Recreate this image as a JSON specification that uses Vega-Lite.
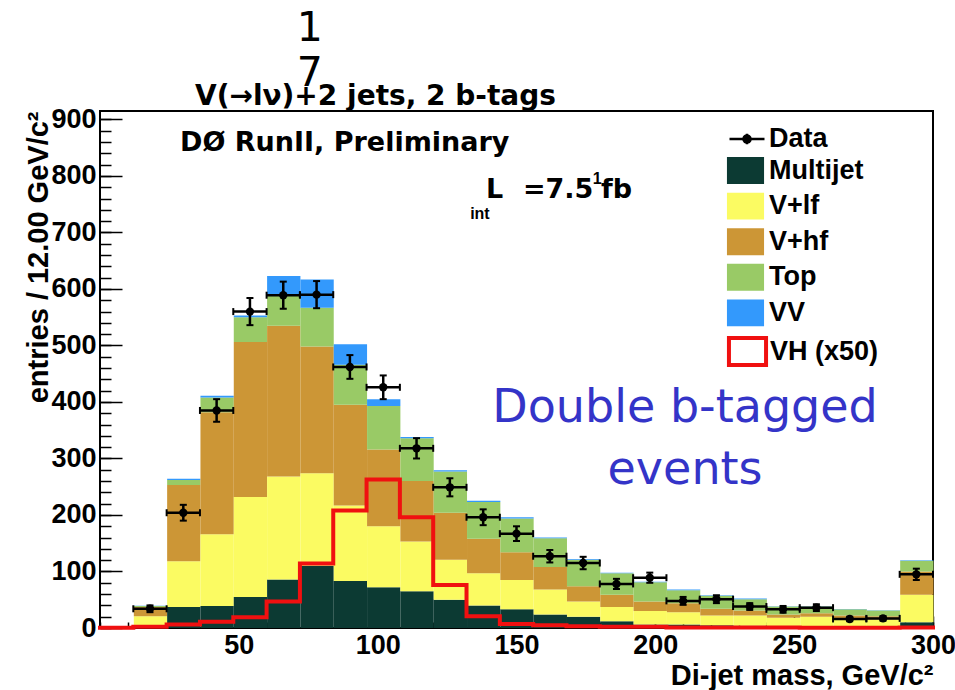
{
  "$schema": "https://vega.github.io/schema/vega-lite/v6.json",
  "width": 833,
  "height": 517,
  "autosize": {"type": "none"},
  "padding": {"left": 100, "top": 111, "right": 22, "bottom": 62},
  "background": "white",
  "config": {
    "view": {"stroke": "black", "strokeWidth": 2},
    "font": "Liberation Sans"
  },
  "resolve": {"axis": {"x": "independent", "y": "independent"}},
  "datasets": {
    "bkg": [
      {"lo":12,"hi":24,"p":"Multijet","k":1,"n":1},{"lo":12,"hi":24,"p":"V+lf","k":2,"n":20},{"lo":12,"hi":24,"p":"V+hf","k":3,"n":16},{"lo":12,"hi":24,"p":"Top","k":4,"n":2},{"lo":12,"hi":24,"p":"VV","k":5,"n":0.5},
      {"lo":24,"hi":36,"p":"Multijet","k":1,"n":37},{"lo":24,"hi":36,"p":"V+lf","k":2,"n":81},{"lo":24,"hi":36,"p":"V+hf","k":3,"n":135},{"lo":24,"hi":36,"p":"Top","k":4,"n":9},{"lo":24,"hi":36,"p":"VV","k":5,"n":2},
      {"lo":36,"hi":48,"p":"Multijet","k":1,"n":39},{"lo":36,"hi":48,"p":"V+lf","k":2,"n":127},{"lo":36,"hi":48,"p":"V+hf","k":3,"n":216},{"lo":36,"hi":48,"p":"Top","k":4,"n":26},{"lo":36,"hi":48,"p":"VV","k":5,"n":3},
      {"lo":48,"hi":60,"p":"Multijet","k":1,"n":55},{"lo":48,"hi":60,"p":"V+lf","k":2,"n":177},{"lo":48,"hi":60,"p":"V+hf","k":3,"n":274},{"lo":48,"hi":60,"p":"Top","k":4,"n":44},{"lo":48,"hi":60,"p":"VV","k":5,"n":3},
      {"lo":60,"hi":72,"p":"Multijet","k":1,"n":86},{"lo":60,"hi":72,"p":"V+lf","k":2,"n":182},{"lo":60,"hi":72,"p":"V+hf","k":3,"n":267},{"lo":60,"hi":72,"p":"Top","k":4,"n":55},{"lo":60,"hi":72,"p":"VV","k":5,"n":33},
      {"lo":72,"hi":84,"p":"Multijet","k":1,"n":110},{"lo":72,"hi":84,"p":"V+lf","k":2,"n":164},{"lo":72,"hi":84,"p":"V+hf","k":3,"n":224},{"lo":72,"hi":84,"p":"Top","k":4,"n":69},{"lo":72,"hi":84,"p":"VV","k":5,"n":50},
      {"lo":84,"hi":96,"p":"Multijet","k":1,"n":83},{"lo":84,"hi":96,"p":"V+lf","k":2,"n":134},{"lo":84,"hi":96,"p":"V+hf","k":3,"n":178},{"lo":84,"hi":96,"p":"Top","k":4,"n":71},{"lo":84,"hi":96,"p":"VV","k":5,"n":36},
      {"lo":96,"hi":108,"p":"Multijet","k":1,"n":72},{"lo":96,"hi":108,"p":"V+lf","k":2,"n":108},{"lo":96,"hi":108,"p":"V+hf","k":3,"n":136},{"lo":96,"hi":108,"p":"Top","k":4,"n":77},{"lo":96,"hi":108,"p":"VV","k":5,"n":12},
      {"lo":108,"hi":120,"p":"Multijet","k":1,"n":65},{"lo":108,"hi":120,"p":"V+lf","k":2,"n":88},{"lo":108,"hi":120,"p":"V+hf","k":3,"n":107},{"lo":108,"hi":120,"p":"Top","k":4,"n":76},{"lo":108,"hi":120,"p":"VV","k":5,"n":2},
      {"lo":120,"hi":132,"p":"Multijet","k":1,"n":50},{"lo":120,"hi":132,"p":"V+lf","k":2,"n":71},{"lo":120,"hi":132,"p":"V+hf","k":3,"n":83},{"lo":120,"hi":132,"p":"Top","k":4,"n":73},{"lo":120,"hi":132,"p":"VV","k":5,"n":2},
      {"lo":132,"hi":144,"p":"Multijet","k":1,"n":40},{"lo":132,"hi":144,"p":"V+lf","k":2,"n":57},{"lo":132,"hi":144,"p":"V+hf","k":3,"n":61},{"lo":132,"hi":144,"p":"Top","k":4,"n":65},{"lo":132,"hi":144,"p":"VV","k":5,"n":2},
      {"lo":144,"hi":156,"p":"Multijet","k":1,"n":33},{"lo":144,"hi":156,"p":"V+lf","k":2,"n":52},{"lo":144,"hi":156,"p":"V+hf","k":3,"n":49},{"lo":144,"hi":156,"p":"Top","k":4,"n":60},{"lo":144,"hi":156,"p":"VV","k":5,"n":2},
      {"lo":156,"hi":168,"p":"Multijet","k":1,"n":24},{"lo":156,"hi":168,"p":"V+lf","k":2,"n":44},{"lo":156,"hi":168,"p":"V+hf","k":3,"n":40},{"lo":156,"hi":168,"p":"Top","k":4,"n":51},{"lo":156,"hi":168,"p":"VV","k":5,"n":1},
      {"lo":168,"hi":180,"p":"Multijet","k":1,"n":20},{"lo":168,"hi":180,"p":"V+lf","k":2,"n":27},{"lo":168,"hi":180,"p":"V+hf","k":3,"n":27},{"lo":168,"hi":180,"p":"Top","k":4,"n":47},{"lo":168,"hi":180,"p":"VV","k":5,"n":1},
      {"lo":180,"hi":192,"p":"Multijet","k":1,"n":12},{"lo":180,"hi":192,"p":"V+lf","k":2,"n":25},{"lo":180,"hi":192,"p":"V+hf","k":3,"n":22},{"lo":180,"hi":192,"p":"Top","k":4,"n":38},{"lo":180,"hi":192,"p":"VV","k":5,"n":1},
      {"lo":192,"hi":204,"p":"Multijet","k":1,"n":6},{"lo":192,"hi":204,"p":"V+lf","k":2,"n":24},{"lo":192,"hi":204,"p":"V+hf","k":3,"n":17},{"lo":192,"hi":204,"p":"Top","k":4,"n":34},{"lo":192,"hi":204,"p":"VV","k":5,"n":1},
      {"lo":204,"hi":216,"p":"Multijet","k":1,"n":6},{"lo":204,"hi":216,"p":"V+lf","k":2,"n":22},{"lo":204,"hi":216,"p":"V+hf","k":3,"n":16},{"lo":204,"hi":216,"p":"Top","k":4,"n":23},{"lo":204,"hi":216,"p":"VV","k":5,"n":1},
      {"lo":216,"hi":228,"p":"Multijet","k":1,"n":5},{"lo":216,"hi":228,"p":"V+lf","k":2,"n":17},{"lo":216,"hi":228,"p":"V+hf","k":3,"n":12},{"lo":216,"hi":228,"p":"Top","k":4,"n":23},{"lo":216,"hi":228,"p":"VV","k":5,"n":1},
      {"lo":228,"hi":240,"p":"Multijet","k":1,"n":4},{"lo":228,"hi":240,"p":"V+lf","k":2,"n":18},{"lo":228,"hi":240,"p":"V+hf","k":3,"n":9},{"lo":228,"hi":240,"p":"Top","k":4,"n":20},{"lo":228,"hi":240,"p":"VV","k":5,"n":1},
      {"lo":240,"hi":252,"p":"Multijet","k":1,"n":3},{"lo":240,"hi":252,"p":"V+lf","k":2,"n":15},{"lo":240,"hi":252,"p":"V+hf","k":3,"n":6},{"lo":240,"hi":252,"p":"Top","k":4,"n":14},{"lo":240,"hi":252,"p":"VV","k":5,"n":0.5},
      {"lo":252,"hi":264,"p":"Multijet","k":1,"n":3},{"lo":252,"hi":264,"p":"V+lf","k":2,"n":17},{"lo":252,"hi":264,"p":"V+hf","k":3,"n":6},{"lo":252,"hi":264,"p":"Top","k":4,"n":12},{"lo":252,"hi":264,"p":"VV","k":5,"n":0.5},
      {"lo":264,"hi":276,"p":"Multijet","k":1,"n":2},{"lo":264,"hi":276,"p":"V+lf","k":2,"n":14},{"lo":264,"hi":276,"p":"V+hf","k":3,"n":6},{"lo":264,"hi":276,"p":"Top","k":4,"n":11},{"lo":264,"hi":276,"p":"VV","k":5,"n":0.5},
      {"lo":276,"hi":288,"p":"Multijet","k":1,"n":2},{"lo":276,"hi":288,"p":"V+lf","k":2,"n":13},{"lo":276,"hi":288,"p":"V+hf","k":3,"n":6},{"lo":276,"hi":288,"p":"Top","k":4,"n":10},{"lo":276,"hi":288,"p":"VV","k":5,"n":0.5},
      {"lo":288,"hi":300,"p":"Multijet","k":1,"n":10},{"lo":288,"hi":300,"p":"V+lf","k":2,"n":49},{"lo":288,"hi":300,"p":"V+hf","k":3,"n":41},{"lo":288,"hi":300,"p":"Top","k":4,"n":19},{"lo":288,"hi":300,"p":"VV","k":5,"n":1}
    ],
    "vh": [
      {"x":0,"n":0.5},{"x":12,"n":2},{"x":24,"n":6},{"x":36,"n":11},{"x":48,"n":19},{"x":60,"n":47},{"x":72,"n":114},{"x":84,"n":208},{"x":96,"n":263},{"x":108,"n":196},{"x":120,"n":76},{"x":132,"n":21},{"x":144,"n":7},{"x":156,"n":5},{"x":168,"n":3},{"x":180,"n":2},{"x":192,"n":2},{"x":204,"n":1},{"x":216,"n":1},{"x":228,"n":1},{"x":240,"n":1},{"x":252,"n":0.5},{"x":264,"n":0.5},{"x":276,"n":0.5},{"x":288,"n":1},{"x":300,"n":1}
    ],
    "obs": [
      {"lo":12,"hi":24,"c":18,"n":34,"elo":28,"ehi":40},
      {"lo":24,"hi":36,"c":30,"n":204,"elo":190,"ehi":218},
      {"lo":36,"hi":48,"c":42,"n":385,"elo":365,"ehi":405},
      {"lo":48,"hi":60,"c":54,"n":560,"elo":536,"ehi":584},
      {"lo":60,"hi":72,"c":66,"n":589,"elo":565,"ehi":613},
      {"lo":72,"hi":84,"c":78,"n":590,"elo":566,"ehi":614},
      {"lo":84,"hi":96,"c":90,"n":462,"elo":441,"ehi":483},
      {"lo":96,"hi":108,"c":102,"n":426,"elo":405,"ehi":447},
      {"lo":108,"hi":120,"c":114,"n":318,"elo":300,"ehi":336},
      {"lo":120,"hi":132,"c":126,"n":249,"elo":233,"ehi":265},
      {"lo":132,"hi":144,"c":138,"n":196,"elo":182,"ehi":210},
      {"lo":144,"hi":156,"c":150,"n":167,"elo":154,"ehi":180},
      {"lo":156,"hi":168,"c":162,"n":127,"elo":116,"ehi":138},
      {"lo":168,"hi":180,"c":174,"n":115,"elo":104,"ehi":126},
      {"lo":180,"hi":192,"c":186,"n":78,"elo":69,"ehi":87},
      {"lo":192,"hi":204,"c":198,"n":89,"elo":80,"ehi":98},
      {"lo":204,"hi":216,"c":210,"n":48,"elo":41,"ehi":55},
      {"lo":216,"hi":228,"c":222,"n":51,"elo":44,"ehi":58},
      {"lo":228,"hi":240,"c":234,"n":38,"elo":32,"ehi":44},
      {"lo":240,"hi":252,"c":246,"n":33,"elo":27,"ehi":39},
      {"lo":252,"hi":264,"c":258,"n":36,"elo":30,"ehi":42},
      {"lo":264,"hi":276,"c":270,"n":16,"elo":12,"ehi":20},
      {"lo":276,"hi":288,"c":282,"n":17,"elo":13,"ehi":21},
      {"lo":288,"hi":300,"c":294,"n":95,"elo":85,"ehi":105}
    ],
    "big": [
      {"x":34.2,"y":926,"t":"V(→lν)+2 jets, 2 b-tags"}
    ],
    "mid": [
      {"x":28.8,"y":858,"t":"DØ RunII, Preliminary"},
      {"x":139,"y":775,"t":"L"},
      {"x":152.3,"y":775,"t":"=7.5"},
      {"x":180.4,"y":775,"t":"fb"}
    ],
    "small": [
      {"x":133.3,"y":733,"t":"int"},
      {"x":177.5,"y":795,"t":"1"}
    ],
    "slide": [
      {"x":75.6,"y":1060,"t":"1"},
      {"x":75.6,"y":980,"t":"7"}
    ],
    "note": [
      {"x":210.7,"y":389,"t":"Double b-tagged\nevents"}
    ]
  },
  "layer": [
    {
      "data": {"name": "bkg"},
      "mark": {"type": "bar", "binSpacing": 0, "strokeWidth": 0, "orient": "vertical"},
      "encoding": {
        "x": {"field": "lo", "type": "quantitative", "bin": {"binned": true, "step": 12}, "axis": null,
              "scale": {"domain": [0, 300], "nice": false, "zero": false}},
        "x2": {"field": "hi"},
        "y": {"field": "n", "type": "quantitative", "stack": "zero", "axis": null,
              "scale": {"domain": [0, 915], "nice": false, "zero": false}},
        "fill": {
          "field": "p", "type": "nominal",
          "scale": {
            "domain": ["Multijet", "V+lf", "V+hf", "Top", "VV"],
            "range": ["#0c3a33", "#fbfb62", "#cc9636", "#99ca66", "#3399fc"]
          },
          "legend": {
            "orient": "none", "legendX": 628, "legendY": 42,
            "title": null, "padding": 0,
            "labelFont": "Liberation Sans", "labelFontWeight": "bold", "labelFontSize": 27, "labelColor": "black",
            "labelOffset": 6, "labelLimit": 300,
            "symbolType": "M-1.06,-0.77H1.06V0.77H-1.06Z", "symbolSize": 1225, "symbolStrokeWidth": 0,
            "rowPadding": 4.6
          }
        },
        "order": {"field": "k", "type": "quantitative"}
      }
    },
    {
      "data": {"name": "vh"},
      "mark": {"type": "line", "interpolate": "step-after", "strokeWidth": 4, "strokeJoin": "miter", "strokeCap": "square"},
      "encoding": {
        "x": {"field": "x", "type": "quantitative",
              "axis": {"orient": "bottom", "values": [0,10,20,30,40,50,60,70,80,90,100,110,120,130,140,150,160,170,180,190,200,210,220,230,240,250,260,270,280,290,300],
                       "labels": false, "tickSize": -6, "tickColor": "black", "tickWidth": 1.5, "domain": false, "grid": false, "title": null}},
        "y": {"field": "n", "type": "quantitative",
              "axis": {"orient": "left", "values": [0,20,40,60,80,100,120,140,160,180,200,220,240,260,280,300,320,340,360,380,400,420,440,460,480,500,520,540,560,580,600,620,640,660,680,700,720,740,760,780,800,820,840,860,880,900],
                       "labels": false, "tickSize": -11, "tickColor": "black", "tickWidth": 1.5, "domain": false, "grid": false, "title": null}},
        "stroke": {
          "datum": "VH (x50)",
          "scale": {"domain": ["VH (x50)"], "range": ["#f01010"]},
          "legend": {
            "orient": "none", "legendX": 628, "legendY": 221,
            "title": null, "padding": 0,
            "labelFont": "Liberation Sans", "labelFontWeight": "bold", "labelFontSize": 27, "labelColor": "black",
            "labelOffset": 3, "labelLimit": 300,
            "symbolType": "M-1.06,-0.77H1.06V0.77H-1.06Z", "symbolSize": 1225, "symbolStrokeWidth": 4, "symbolFillColor": "white"
          }
        }
      }
    },
    {
      "data": {"name": "obs"},
      "mark": {"type": "rule", "strokeWidth": 2.5, "color": "black"},
      "encoding": {
        "x": {"field": "lo", "type": "quantitative", "axis": null},
        "x2": {"field": "hi"},
        "y": {"field": "n", "type": "quantitative", "axis": null},
        "strokeDash": {
          "datum": "Data",
          "scale": {"domain": ["Data"], "range": [[1, 0]]},
          "legend": {
            "orient": "none", "legendX": 628, "legendY": 9,
            "title": null, "padding": 0,
            "labelFont": "Liberation Sans", "labelFontWeight": "bold", "labelFontSize": 27, "labelColor": "black",
            "labelOffset": 3, "labelLimit": 300,
            "symbolType": "M-1,0H1M0,-0.3V0.3M0.2,0A0.2,0.2 0 1 1 -0.2,0A0.2,0.2 0 1 1 0.2,0Z",
            "symbolSize": 1225, "symbolStrokeWidth": 2.5, "symbolStrokeColor": "black", "symbolFillColor": "black"
          }
        }
      }
    },
    {
      "data": {"name": "obs"},
      "mark": {"type": "rule", "strokeWidth": 2.5, "color": "black"},
      "encoding": {
        "x": {"field": "c", "type": "quantitative", "axis": null},
        "y": {"field": "elo", "type": "quantitative", "axis": null},
        "y2": {"field": "ehi"}
      }
    },
    {
      "data": {"name": "obs"},
      "transform": [{"fold": ["elo", "ehi"], "as": ["end", "ev"]}],
      "mark": {"type": "tick", "orient": "horizontal", "size": 7, "thickness": 2, "color": "black", "opacity": 1},
      "encoding": {
        "x": {"field": "c", "type": "quantitative", "axis": null},
        "y": {"field": "ev", "type": "quantitative", "axis": null}
      }
    },
    {
      "data": {"name": "obs"},
      "transform": [{"fold": ["lo", "hi"], "as": ["end", "xv"]}],
      "mark": {"type": "tick", "orient": "vertical", "size": 7, "thickness": 2, "color": "black", "opacity": 1},
      "encoding": {
        "x": {"field": "xv", "type": "quantitative", "axis": null},
        "y": {"field": "n", "type": "quantitative", "axis": null}
      }
    },
    {
      "data": {"name": "obs"},
      "mark": {"type": "point", "filled": true, "shape": "circle", "size": 70, "color": "black", "opacity": 1},
      "encoding": {
        "x": {"field": "c", "type": "quantitative",
              "axis": {"orient": "bottom", "values": [50,100,150,200,250,300],
                       "labelFlush": false, "labelOverlap": false,
                       "labelFont": "Liberation Sans", "labelFontWeight": "bold", "labelFontSize": 27, "labelColor": "black", "labelPadding": 16,
                       "tickSize": -12, "tickColor": "black", "tickWidth": 1.5, "domain": false, "grid": false,
                       "title": "Di-jet mass, GeV/c²",
                       "titleFont": "Liberation Sans", "titleFontWeight": "bold", "titleFontSize": 29, "titleColor": "black",
                       "titleX": 833, "titleY": 56, "titleAlign": "right", "titleBaseline": "alphabetic", "titleAngle": 0}},
        "y": {"field": "n", "type": "quantitative",
              "axis": {"orient": "left", "values": [0,100,200,300,400,500,600,700,800,900],
                       "labelFlush": false, "labelOverlap": false,
                       "labelFont": "Liberation Sans", "labelFontWeight": "bold", "labelFontSize": 27, "labelColor": "black", "labelPadding": 26,
                       "tickSize": -22, "tickColor": "black", "tickWidth": 1.5, "domain": false, "grid": false,
                       "title": "entries / 12.00 GeV/c²",
                       "titleFont": "Liberation Sans", "titleFontWeight": "bold", "titleFontSize": 29, "titleColor": "black",
                       "titleX": -53, "titleY": 0, "titleAngle": 270, "titleAlign": "right", "titleBaseline": "alphabetic"}}
      }
    },
    {
      "data": {"name": "big"},
      "mark": {"type": "text", "align": "left", "baseline": "alphabetic", "font": "DejaVu Sans", "fontWeight": "bold", "fontSize": 28, "color": "black", "clip": false},
      "encoding": {
        "x": {"field": "x", "type": "quantitative", "axis": null},
        "y": {"field": "y", "type": "quantitative", "axis": null},
        "text": {"field": "t"}
      }
    },
    {
      "data": {"name": "mid"},
      "mark": {"type": "text", "align": "left", "baseline": "middle", "font": "DejaVu Sans", "fontWeight": "bold", "fontSize": 27, "color": "black", "clip": false},
      "encoding": {
        "x": {"field": "x", "type": "quantitative", "axis": null},
        "y": {"field": "y", "type": "quantitative", "axis": null},
        "text": {"field": "t"}
      }
    },
    {
      "data": {"name": "small"},
      "mark": {"type": "text", "align": "left", "baseline": "middle", "font": "Liberation Sans", "fontWeight": "bold", "fontSize": 16, "color": "black", "clip": false},
      "encoding": {
        "x": {"field": "x", "type": "quantitative", "axis": null},
        "y": {"field": "y", "type": "quantitative", "axis": null},
        "text": {"field": "t"}
      }
    },
    {
      "data": {"name": "slide"},
      "mark": {"type": "text", "align": "center", "baseline": "middle", "font": "DejaVu Sans", "fontSize": 41, "color": "black", "clip": false},
      "encoding": {
        "x": {"field": "x", "type": "quantitative", "axis": null},
        "y": {"field": "y", "type": "quantitative", "axis": null},
        "text": {"field": "t"}
      }
    },
    {
      "data": {"name": "note"},
      "mark": {"type": "text", "align": "center", "baseline": "middle", "font": "DejaVu Sans", "fontSize": 46, "lineHeight": 62, "lineBreak": "\n", "color": "#3434c8", "clip": false},
      "encoding": {
        "x": {"field": "x", "type": "quantitative", "axis": null},
        "y": {"field": "y", "type": "quantitative", "axis": null},
        "text": {"field": "t"}
      }
    }
  ]
}
